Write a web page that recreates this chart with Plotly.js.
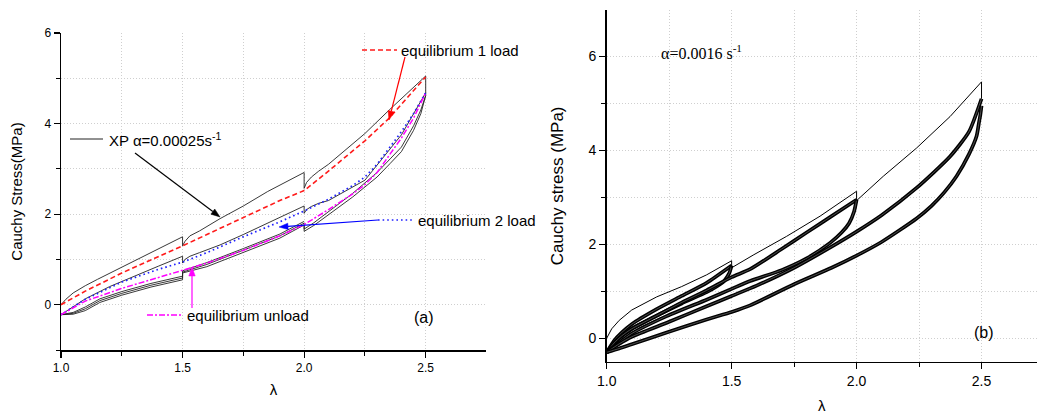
<!DOCTYPE html>
<html><head><meta charset="utf-8">
<script src="https://cdn.plot.ly/plotly-3.0.1.min.js"></script>
<style>html,body{margin:0;padding:0;background:#fff}#chart{width:1037px;height:416px}</style>
</head><body><div id="chart"></div>
<script>
// ---------- Panel (a): alpha = 0.00025 s^-1 ----------
const xpLoad1Lam = [1.0,1.02,1.05,1.1,1.15,1.25,1.35,1.5,1.5,1.51,1.53,1.57,1.654,1.75,1.85,2.0,2.0,2.01,2.03,2.06,2.1,2.25,2.35,2.5,2.5];
const xpLoad1S   = [0.0,0.12,0.26,0.42,0.56,0.83,1.1,1.5,1.3,1.4,1.52,1.63,1.9,2.18,2.5,2.92,2.57,2.7,2.82,2.95,3.1,3.78,4.3,5.05,4.62];

const xpLoad2Lam = [1.0,1.05,1.1,1.2,1.3,1.4,1.5,1.5,1.51,1.53,1.57,1.654,1.75,1.86,2.0,2.0,2.01,2.03,2.06,2.1,2.25,2.4,2.5];
const xpLoad2S   = [-0.22,-0.04,0.13,0.4,0.63,0.85,1.07,0.92,1.0,1.07,1.15,1.32,1.55,1.82,2.18,2.02,2.1,2.17,2.24,2.3,2.75,3.75,4.68];

const xpUnloadALam = [2.5,2.49,2.48,2.45,2.4,2.354,2.3,2.2,2.08,2.04,2.0,2.0,1.9,1.75,1.6,1.5,1.5,1.37,1.25,1.16,1.1,1.05,1.0];
const xpUnloadAS   = [4.62,4.42,4.22,3.85,3.38,3.12,2.82,2.38,1.9,1.75,1.62,1.76,1.47,1.15,0.84,0.7,0.55,0.39,0.21,0.05,-0.13,-0.21,-0.22];
const xpUnloadBS   = [4.62,4.47,4.3,3.95,3.48,3.22,2.92,2.46,1.97,1.81,1.67,1.8,1.52,1.2,0.89,0.72,0.59,0.43,0.25,0.09,-0.09,-0.19,-0.22];
const xpUnloadCLam = [2.0,1.9,1.75,1.6,1.5,1.5,1.37,1.25,1.16,1.1,1.05,1.0];
const xpUnloadCS   = [1.84,1.56,1.24,0.93,0.75,0.63,0.47,0.29,0.13,-0.05,-0.17,-0.22];

const eq1LoadLam = [1.0,1.1,1.25,1.4,1.5,1.6,1.75,1.9,2.0,2.1,2.25,2.35,2.5];
const eq1LoadS   = [0.0,0.3,0.7,1.05,1.3,1.55,1.92,2.3,2.52,2.95,3.62,4.12,5.03];

const eq2LoadLam = [1.0,1.1,1.25,1.4,1.5,1.6,1.75,1.9,2.0,2.1,2.2,2.25,2.3,2.4,2.45,2.5];
const eq2LoadS   = [-0.22,0.12,0.5,0.78,0.94,1.15,1.5,1.83,2.07,2.33,2.63,2.82,3.1,3.82,4.22,4.68];

const eqUnloadLam = [1.0,1.1,1.25,1.4,1.5,1.6,1.75,1.9,2.0,2.1,2.2,2.25,2.3,2.4,2.45,2.5];
const eqUnloadS   = [-0.22,0.08,0.36,0.6,0.75,0.92,1.2,1.52,1.77,2.1,2.45,2.65,2.92,3.68,4.12,4.68];

// ---------- Panel (b): alpha = 0.0016 s^-1 ----------
const bFirstLam = [1.0,1.02,1.05,1.1,1.2,1.3,1.4,1.5,1.5,1.586,1.72,1.854,2.0,2.0,2.107,2.24,2.374,2.5,2.5];
const bFirstS   = [0.0,0.2,0.38,0.6,0.88,1.1,1.35,1.65,1.5,1.77,2.17,2.6,3.13,2.93,3.45,4.05,4.72,5.46,5.1];

const bLoad15Lam = [1.0,1.03,1.06,1.1,1.2,1.3,1.4,1.5];
const bLoad15S   = [-0.3,-0.05,0.12,0.3,0.62,0.9,1.18,1.55];
const bUnload15Lam = [1.5,1.49,1.47,1.44,1.4,1.3,1.2,1.1,1.05,1.0];
const bUnload15S   = [1.55,1.38,1.22,1.1,0.98,0.74,0.48,0.2,0.0,-0.3];

const bLoad20Lam = [1.0,1.03,1.06,1.1,1.2,1.3,1.4,1.5,1.574,1.7,1.8,1.9,2.0];
const bLoad20S   = [-0.3,-0.1,0.05,0.2,0.48,0.76,1.02,1.3,1.47,1.9,2.25,2.6,2.95];
const bUnload20Lam = [2.0,1.99,1.97,1.94,1.894,1.8,1.7,1.574,1.5,1.4,1.24,1.1,1.0];
const bUnload20S   = [2.95,2.7,2.45,2.25,2.03,1.7,1.45,1.22,1.05,0.82,0.47,0.1,-0.3];

const bLoad25Lam = [1.0,1.05,1.1,1.25,1.4,1.5,1.6,1.75,1.9,2.0,2.1,2.24,2.374,2.45,2.5];
const bLoad25S   = [-0.3,-0.12,0.03,0.35,0.68,0.9,1.12,1.5,1.95,2.27,2.62,3.2,3.87,4.4,5.1];
const bUnload25Lam = [2.5,2.495,2.49,2.48,2.45,2.4,2.35,2.3,2.24,2.1,2.0,1.9,1.75,1.574,1.5,1.4,1.24,1.1,1.05,1.0];
const bUnload25S   = [4.95,4.75,4.6,4.3,3.92,3.45,3.1,2.82,2.55,2.05,1.76,1.5,1.15,0.7,0.56,0.4,0.12,-0.13,-0.22,-0.3];

const xTickVals = [1.0,1.5,2.0,2.5];

// ---------- build ----------
const SANS = 'Arial, "Liberation Sans", sans-serif';
const SERIF = '"Times New Roman", "Liberation Serif", serif';
const traces = [];
function lineA(x, y, color, width, dash) {
  traces.push({x:x, y:y, xaxis:'x', yaxis:'y', type:'scatter', mode:'lines', hoverinfo:'skip',
    line:{color:color, width:width, dash:dash || 'solid'}});
}
lineA(xpLoad1Lam, xpLoad1S, '#222', 0.9);
lineA(xpLoad2Lam, xpLoad2S, '#222', 0.9);
lineA(xpUnloadALam, xpUnloadAS, '#222', 0.9);
lineA(xpUnloadALam, xpUnloadBS, '#222', 0.9);
lineA(xpUnloadCLam, xpUnloadCS, '#222', 0.9);
lineA(eq1LoadLam, eq1LoadS, '#ff1a1a', 1.6, '5px,3px');
lineA(eq2LoadLam, eq2LoadS, '#2020ff', 1.7, '1.6px,3px');
lineA(eqUnloadLam, eqUnloadS, '#ff00ff', 1.5, '6px,2px,2px,2px');

function bundleB(x, y) {
  traces.push({x:x, y:y, xaxis:'x2', yaxis:'y2', type:'scatter', mode:'lines', hoverinfo:'skip',
    line:{color:'#000', width:3.7, shape:'spline', smoothing:0.6}});
  traces.push({x:x, y:y, xaxis:'x2', yaxis:'y2', type:'scatter', mode:'lines', hoverinfo:'skip',
    line:{color:'rgba(255,255,255,0.5)', width:0.6, shape:'spline', smoothing:0.6}});
}
bundleB(bLoad15Lam, bLoad15S);
bundleB(bUnload15Lam, bUnload15S);
bundleB(bLoad20Lam, bLoad20S);
bundleB(bUnload20Lam, bUnload20S);
bundleB(bLoad25Lam, bLoad25S);
bundleB(bUnload25Lam, bUnload25S);
traces.push({x:bFirstLam, y:bFirstS, xaxis:'x2', yaxis:'y2', type:'scatter', mode:'lines', hoverinfo:'skip',
  line:{color:'#000', width:1}});

const GRIDC = '#cfcfcf', GRIDD = '1px,2px';
const grid = {showgrid:true, gridcolor:GRIDC, griddash:GRIDD, gridwidth:1};
function xAx(domain, range, fs, standoff, anchor) {
  return Object.assign({domain:domain, range:range, anchor:anchor, tickmode:'array', tickvals:xTickVals,
    ticktext:xTickVals.map(v => v.toFixed(1)), ticks:'outside', ticklen:6, tickwidth:1.2, tickcolor:'#000',
    showline:true, linecolor:'#000', linewidth:1.5, zeroline:false,
    minor:{tickmode:'linear', tick0:1, dtick:0.25, ticks:'outside', ticklen:4, tickwidth:1, tickcolor:'#000',
      showgrid:true, gridcolor:GRIDC, griddash:GRIDD, gridwidth:1},
    tickfont:{family:SANS, size:fs, color:'#000'},
    title:{text:'λ', font:{family:SANS, size:15, color:'#000'}, standoff:standoff}}, grid);
}
function yAx(domain, range, fs, titleText, titleSize, standoff, anchor) {
  return Object.assign({domain:domain, range:range, anchor:anchor, tick0:0, dtick:2, ticks:'outside', ticklen:6,
    tickwidth:1.2, tickcolor:'#000', showline:true, linecolor:'#000', linewidth:1.5, zeroline:false,
    minor:{tick0:0, dtick:1, ticks:'outside', ticklen:4, tickwidth:1, tickcolor:'#000',
      showgrid:true, gridcolor:GRIDC, griddash:GRIDD, gridwidth:1},
    tickfont:{family:SANS, size:fs, color:'#000'},
    title:{text:titleText, font:{family:SANS, size:titleSize, color:'#000'}, standoff:standoff}}, grid);
}
const W = 1037, H = 416;
const px = v => v / W, py = v => 1 - v / H;

// arrow = straight line + filled triangular head, positioned in page pixels
function arrow(tx, ty, hx, hy, color) {
  const dx = hx - tx, dy = hy - ty, L = Math.hypot(dx, dy), ux = dx / L, uy = dy / L;
  const hl = 9, hw = 3.2;
  const bx = hx - ux * hl, by = hy - uy * hl;
  const p1 = [bx - uy * hw, by + ux * hw], p2 = [bx + uy * hw, by - ux * hw];
  return [
    {type:'line', xref:'paper', yref:'paper', x0:px(tx), y0:py(ty), x1:px(bx), y1:py(by), line:{color:color, width:1.2}},
    {type:'path', xref:'paper', yref:'paper', fillcolor:color, line:{color:color, width:0.5},
      path:`M ${px(hx)} ${py(hy)} L ${px(p1[0])} ${py(p1[1])} L ${px(p2[0])} ${py(p2[1])} Z`}
  ];
}

const shapes = [
  {type:'line', xref:'paper', yref:'paper', x0:px(70), x1:px(103), y0:py(139), y1:py(139), line:{color:'#222', width:1}},
  {type:'line', xref:'paper', yref:'paper', x0:px(362), x1:px(397), y0:py(50), y1:py(50), line:{color:'#ff1a1a', width:1.6, dash:'5px,3px'}},
  {type:'line', xref:'paper', yref:'paper', x0:px(378), x1:px(414), y0:py(220), y1:py(220), line:{color:'#2020ff', width:1.7, dash:'1.6px,3px'}},
  {type:'line', xref:'paper', yref:'paper', x0:px(147), x1:px(182), y0:py(315), y1:py(315), line:{color:'#ff00ff', width:1.5, dash:'6px,2px,2px,2px'}}
].concat(
  arrow(135, 153, 220, 217, '#000'),
  arrow(405, 57, 389, 120, '#ff0000'),
  arrow(378, 220, 279, 227, '#0000ff'),
  arrow(192, 308, 192, 267, '#ff00ff')
);

const layout = {
  width:W, height:H, margin:{l:0, r:0, t:0, b:0}, paper_bgcolor:'#fff', plot_bgcolor:'#fff', showlegend:false,
  xaxis: xAx([61/W, 486/W], [1, 2.748], 12, 10, 'y'),
  yaxis: yAx([66/H, 383/H], [-1, 6], 12, 'Cauchy Stress(MPa)', 15, 18, 'x'),
  xaxis2: xAx([606.7/W, 1], [1, 2.722], 14, 12, 'y2'),
  yaxis2: yAx([54.3/H, 406/H], [-0.5, 6.99], 14, 'Cauchy stress (MPa)', 17, 20, 'x2'),
  shapes: shapes,
  annotations: [
    {xref:'paper', yref:'paper', x:px(107), y:py(139), xanchor:'left', yanchor:'middle', showarrow:false,
      text:'XP α=0.00025s<sup>-1</sup>', font:{family:SANS, size:15, color:'#000'}},
    {xref:'paper', yref:'paper', x:px(399), y:py(50), xanchor:'left', yanchor:'middle', showarrow:false,
      text:'equilibrium 1 load', font:{family:SANS, size:15, color:'#000'}},
    {xref:'paper', yref:'paper', x:px(416), y:py(220), xanchor:'left', yanchor:'middle', showarrow:false,
      text:'equilibrium 2 load', font:{family:SANS, size:15, color:'#000'}},
    {xref:'paper', yref:'paper', x:px(185), y:py(315), xanchor:'left', yanchor:'middle', showarrow:false,
      text:'equilibrium unload', font:{family:SANS, size:15, color:'#000'}},
    {xref:'paper', yref:'paper', x:px(412), y:py(317), xanchor:'left', yanchor:'middle', showarrow:false,
      text:'(a)', font:{family:SANS, size:16, color:'#000'}},
    {xref:'paper', yref:'paper', x:px(659), y:py(52), xanchor:'left', yanchor:'middle', showarrow:false,
      text:'α=0.0016 s<sup>-1</sup>', font:{family:SERIF, size:16, color:'#000'}},
    {xref:'paper', yref:'paper', x:px(972), y:py(332), xanchor:'left', yanchor:'middle', showarrow:false,
      text:'(b)', font:{family:SANS, size:16, color:'#000'}}
  ]
};
Plotly.newPlot('chart', traces, layout, {staticPlot:true, displayModeBar:false});
</script></body></html>
